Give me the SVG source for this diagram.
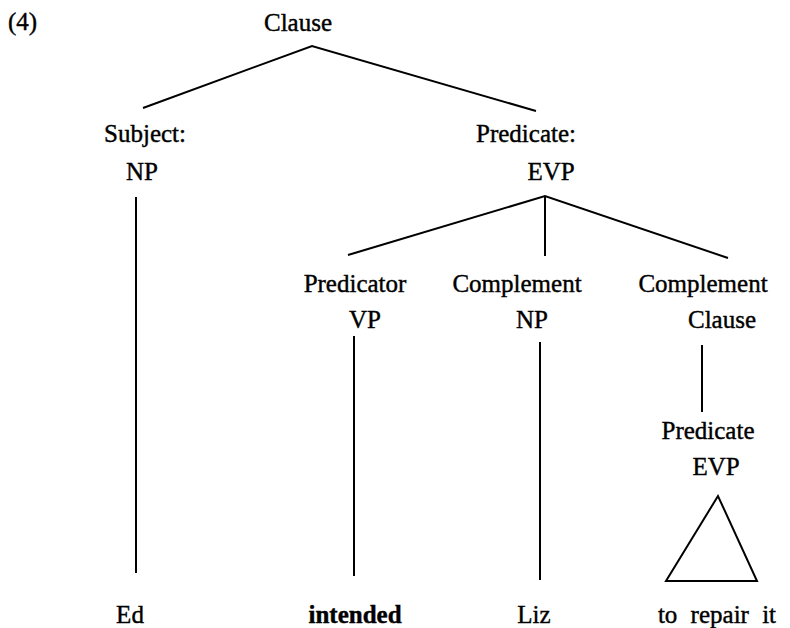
<svg xmlns="http://www.w3.org/2000/svg" width="790" height="628" viewBox="0 0 790 628">
<style>
.tx{font-family:'Liberation Serif','DejaVu Serif',serif;font-size:25px;fill:#000;text-anchor:middle;stroke:#000;stroke-width:0.4}
.l{stroke:#000;stroke-width:2;fill:none}
.t{stroke:#000;stroke-width:2;fill:none;stroke-linejoin:miter}
</style>
<rect width="790" height="628" fill="#fff"/>
<g class="tx" font-family="Liberation Serif, DejaVu Serif, serif">
<text x="8" y="30" style="text-anchor:start">(4)</text>
<g id="clause"><text x="298" y="31">Clause</text></g>
<g id="subject"><text x="145" y="142">Subject:</text><text x="142" y="180">NP</text></g>
<g id="predicate"><text x="526" y="142">Predicate:</text><text x="551" y="180">EVP</text></g>
<g id="predicator"><text x="355" y="292">Predicator</text><text x="365" y="328">VP</text></g>
<g id="complement1"><text x="517" y="292">Complement</text><text x="532" y="328">NP</text></g>
<g id="complement2"><text x="703" y="292">Complement</text><text x="722" y="328">Clause</text></g>
<g id="predicate2"><text x="708" y="439">Predicate</text><text x="716" y="475">EVP</text></g>
<g id="ed"><text x="130" y="623">Ed</text></g>
<g id="intended"><text x="355" y="623" font-weight="bold">intended</text></g>
<g id="liz"><text x="534" y="623">Liz</text></g>
<g id="repair"><text x="717" y="623" word-spacing="7">to repair it</text></g>
</g>
<g id="triangle"><polygon class="t" points="718,496 666,581 757,581"/></g>
<g id="connectors">
<path class="l" d="M143,108 L312,46 L536,111"/>
<line class="l" x1="136" y1="197" x2="136" y2="573"/>
<path class="l" d="M348,255 L545,196 L728,258"/>
<line class="l" x1="545" y1="196" x2="545" y2="256"/>
<line class="l" x1="354" y1="336" x2="354" y2="576"/>
<line class="l" x1="540" y1="342" x2="540" y2="580"/>
<line class="l" x1="702" y1="345" x2="702" y2="412"/>
</g>
</svg>
